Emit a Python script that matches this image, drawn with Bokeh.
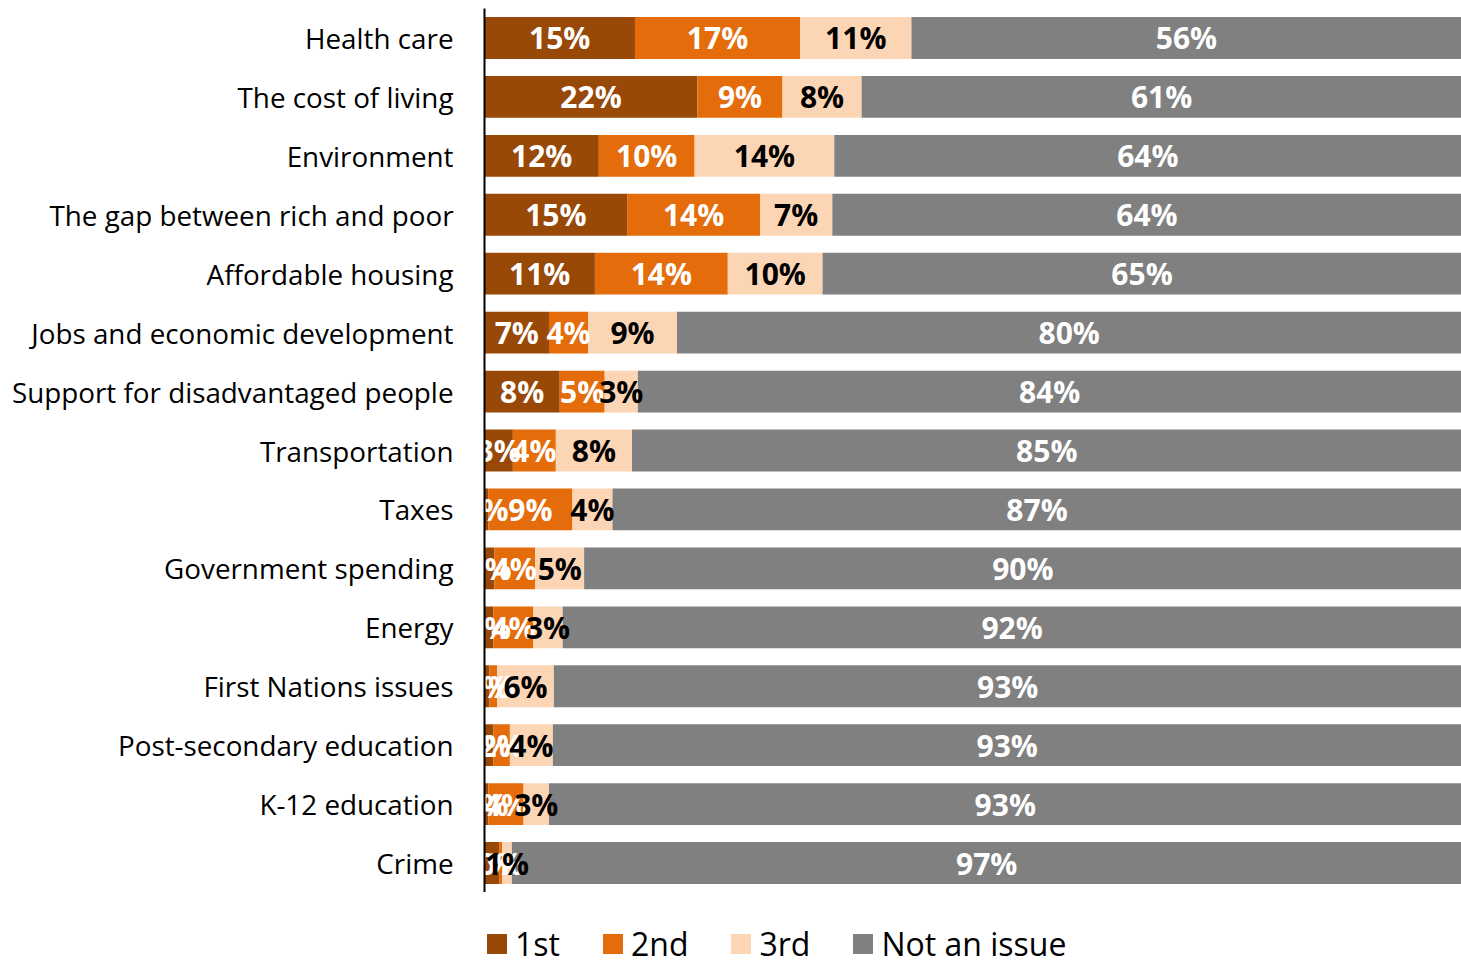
import math
from bokeh.plotting import figure
from bokeh.layouts import column
from bokeh.models import ColumnDataSource, Legend, LegendItem, Range1d, FactorRange
from bokeh.core.properties import value
from bokeh.embed import file_html
from bokeh.resources import INLINE

categories = ["Health care", "The cost of living", "Environment",
              "The gap between rich and poor", "Affordable housing",
              "Jobs and economic development", "Support for disadvantaged people",
              "Transportation", "Taxes", "Government spending", "Energy",
              "First Nations issues", "Post-secondary education", "K-12 education", "Crime"]
first = [15.4, 21.8, 11.7, 14.6, 11.3, 6.6, 7.7, 2.9, 0.4, 1.0, 0.9, 0.5, 0.9, 0.4, 1.5]
second = [16.9, 8.7, 9.8, 13.6, 13.6, 4.0, 4.6, 4.4, 8.6, 4.2, 4.1, 0.8, 1.7, 3.6, 0.3]
third = [11.4, 8.1, 14.3, 7.4, 9.7, 9.1, 3.4, 7.8, 4.1, 5.0, 3.0, 5.8, 4.4, 2.6, 1.0]
not_issue = [56.3, 61.4, 64.2, 64.4, 65.4, 80.3, 84.3, 84.9, 86.9, 89.8, 92.0, 92.9, 93.0, 93.4, 97.2]

series_names = ["1st", "2nd", "3rd", "Not an issue"]
series_keys = ["first", "second", "third", "not_issue"]
colors = ["#984807", "#E46C0A", "#FCD5B5", "#808080"]
label_colors = ["white", "white", "black", "white"]

data = dict(cat=categories, first=first, second=second, third=third, not_issue=not_issue)
source = ColumnDataSource(data)

p = figure(y_range=FactorRange(*list(reversed(categories))), x_range=Range1d(0, 100),
           frame_width=977, frame_height=884, output_backend="svg", toolbar_location=None,
           min_border_left=484, min_border_right=0, min_border_top=8, min_border_bottom=0)

renderers = p.hbar_stack(series_keys, y="cat", height=0.71, color=colors, source=source,
                         line_color=None)

# data labels
lx, ly, lt, lc = [], [], [], []
values = [first, second, third, not_issue]
for i, cat in enumerate(categories):
    left = 0.0
    for s in range(4):
        v = values[s][i]
        lx.append(left + v / 2.0)
        ly.append(cat)
        lt.append("%d%%" % int(math.floor(v + 0.5)))
        lc.append(label_colors[s])
        left += v
lsrc = ColumnDataSource(dict(x=lx, y=ly, text=lt, color=lc))
p.text(x="x", y="y", text="text", text_color="color", source=lsrc,
       text_align="center", text_baseline="middle",
       text_font=value("Open Sans"), text_font_style="bold", text_font_size="30px")

p.xaxis.visible = False
p.xgrid.visible = False
p.ygrid.visible = False
p.outline_line_color = None

ax = p.yaxis[0]
ax.axis_line_color = "black"
ax.axis_line_width = 2
ax.major_tick_line_color = None
ax.minor_tick_line_color = None
ax.major_tick_in = 0
ax.major_tick_out = 0
ax.major_label_standoff = 31
ax.major_label_text_font = "Open Sans"
ax.major_label_text_font_size = "27.8px"
ax.major_label_text_color = "black"

# legend figure (its frame is aligned with the main plot's frame)
lf = figure(x_range=Range1d(0, 1), y_range=Range1d(0, 1), width=1461, height=74,
            output_backend="svg", toolbar_location=None,
            min_border_left=0, min_border_right=0, min_border_top=0, min_border_bottom=0)
lf.xaxis.visible = False
lf.yaxis.visible = False
lf.xgrid.visible = False
lf.ygrid.visible = False
lf.outline_line_color = None
dummy = [lf.quad(left=[5], right=[6], bottom=[5], top=[6], fill_color=c, line_color=None)
         for c in colors]
items = [LegendItem(label=n, renderers=[r]) for n, r in zip(series_names, dummy)]
legend = Legend(items=items, orientation="horizontal", location=(0, 1),
                label_text_font="Open Sans", label_text_font_size="32px",
                label_text_color="black", label_height=25,
                glyph_width=25, glyph_height=25, spacing=40, label_standoff=6,
                padding=0, margin=0, border_line_color=None, background_fill_alpha=0)
lf.add_layout(legend, "center")

layout = column(p, lf, spacing=0)
open("out.html", "w").write(file_html(layout, INLINE))
